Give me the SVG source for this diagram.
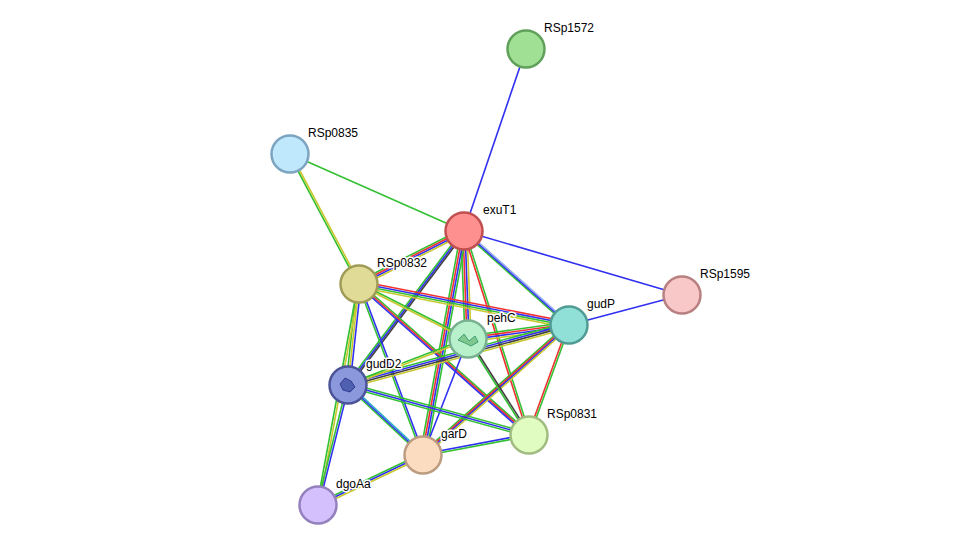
<svg xmlns="http://www.w3.org/2000/svg" width="976" height="551" viewBox="0 0 976 551">
<style>
line{stroke-width:1.6}
.g{stroke:#33c033}.b{stroke:#3030f0}.r{stroke:#f03030}.y{stroke:#c8c830}.k{stroke:#404040}.lb{stroke:#90a8f0}.c{stroke:#30b0c8}
circle{stroke-width:2.5}
text{font-family:"Liberation Sans",Arial,sans-serif;font-size:12px;fill:#000;stroke:#fff;stroke-width:3px;paint-order:stroke;stroke-linejoin:round}
</style>
<rect width="976" height="551" fill="#fff"/>
<g id="connectors">
<line class="b" x1="464" y1="231" x2="526" y2="49"/>
<line class="b" x1="464" y1="231" x2="682" y2="295"/>
<line class="g" x1="464" y1="231" x2="290" y2="154"/>
<line class="g" x1="289" y1="154" x2="358" y2="284"/><line class="y" x1="291" y1="154" x2="360" y2="284"/>
<line class="g" x1="464" y1="228" x2="359" y2="281"/><line class="r" x1="464" y1="230" x2="359" y2="283"/><line class="b" x1="464" y1="232" x2="359" y2="285"/><line class="y" x1="464" y1="234" x2="359" y2="287"/>
<line class="g" x1="462" y1="231" x2="567" y2="325"/><line class="b" x1="464" y1="231" x2="569" y2="325"/><line class="lb" x1="466" y1="231" x2="571" y2="325"/>
<line class="g" x1="461" y1="231" x2="465" y2="339"/><line class="r" x1="463" y1="231" x2="467" y2="339"/><line class="b" x1="465" y1="231" x2="469" y2="339"/><line class="y" x1="467" y1="231" x2="471" y2="339"/>
<line class="g" x1="462" y1="231" x2="346" y2="385"/><line class="b" x1="464" y1="231" x2="348" y2="385"/><line class="k" x1="466" y1="231" x2="350" y2="385"/>
<line class="g" x1="461" y1="231" x2="420" y2="455"/><line class="r" x1="463" y1="231" x2="422" y2="455"/><line class="b" x1="465" y1="231" x2="424" y2="455"/><line class="g" x1="467" y1="231" x2="426" y2="455"/>
<line class="r" x1="463" y1="231" x2="528" y2="435"/><line class="g" x1="465" y1="231" x2="530" y2="435"/>
<line class="r" x1="359" y1="281" x2="569" y2="322"/><line class="b" x1="359" y1="283" x2="569" y2="324"/><line class="g" x1="359" y1="285" x2="569" y2="326"/><line class="y" x1="359" y1="287" x2="569" y2="328"/>
<line class="g" x1="359" y1="283" x2="468" y2="338"/><line class="y" x1="359" y1="285" x2="468" y2="340"/>
<line class="g" x1="357" y1="284" x2="346" y2="385"/><line class="y" x1="359" y1="284" x2="348" y2="385"/><line class="b" x1="361" y1="284" x2="350" y2="385"/>
<line class="g" x1="358" y1="284" x2="422" y2="455"/><line class="b" x1="360" y1="284" x2="424" y2="455"/>
<line class="g" x1="359" y1="282" x2="529" y2="433"/><line class="r" x1="359" y1="284" x2="529" y2="435"/><line class="b" x1="359" y1="286" x2="529" y2="437"/>
<line class="g" x1="358" y1="284" x2="317" y2="505"/><line class="y" x1="360" y1="284" x2="319" y2="505"/>
<line class="b" x1="569" y1="325" x2="682" y2="295"/>
<line class="g" x1="569" y1="322" x2="468" y2="336"/><line class="r" x1="569" y1="324" x2="468" y2="338"/><line class="b" x1="569" y1="326" x2="468" y2="340"/><line class="y" x1="569" y1="328" x2="468" y2="342"/>
<line class="g" x1="569" y1="322" x2="348" y2="382"/><line class="b" x1="569" y1="324" x2="348" y2="384"/><line class="k" x1="569" y1="326" x2="348" y2="386"/><line class="y" x1="569" y1="328" x2="348" y2="388"/>
<line class="g" x1="566" y1="325" x2="420" y2="455"/><line class="r" x1="568" y1="325" x2="422" y2="455"/><line class="b" x1="570" y1="325" x2="424" y2="455"/><line class="y" x1="572" y1="325" x2="426" y2="455"/>
<line class="r" x1="568" y1="325" x2="528" y2="435"/><line class="g" x1="570" y1="325" x2="530" y2="435"/>
<line class="g" x1="468" y1="338" x2="348" y2="384"/><line class="y" x1="468" y1="340" x2="348" y2="386"/>
<line class="b" x1="468" y1="339" x2="423" y2="455"/>
<line class="g" x1="467" y1="339" x2="528" y2="435"/><line class="k" x1="469" y1="339" x2="530" y2="435"/>
<line class="g" x1="346" y1="385" x2="421" y2="455"/><line class="b" x1="348" y1="385" x2="423" y2="455"/><line class="c" x1="350" y1="385" x2="425" y2="455"/>
<line class="g" x1="348" y1="383" x2="529" y2="433"/><line class="b" x1="348" y1="385" x2="529" y2="435"/><line class="g" x1="348" y1="387" x2="529" y2="437"/>
<line class="g" x1="347" y1="385" x2="317" y2="505"/><line class="b" x1="349" y1="385" x2="319" y2="505"/>
<line class="b" x1="423" y1="454" x2="529" y2="434"/><line class="g" x1="423" y1="456" x2="529" y2="436"/>
<line class="g" x1="423" y1="453" x2="318" y2="503"/><line class="b" x1="423" y1="455" x2="318" y2="505"/><line class="y" x1="423" y1="457" x2="318" y2="507"/>
</g>
<g id="RSp1572"><circle cx="526" cy="49" r="18.5" fill="#a0e094" stroke="#60a05a"/><text x="544" y="32">RSp1572</text></g>
<g id="RSp0835"><circle cx="290" cy="154" r="18.5" fill="#c0e8fc" stroke="#7ca4c0"/><text x="308" y="137">RSp0835</text></g>
<g id="exuT1"><circle cx="464" cy="231" r="18.5" fill="#ff9090" stroke="#c05050"/><text x="483" y="214">exuT1</text></g>
<g id="RSp1595"><circle cx="682" cy="295" r="18.5" fill="#f8c8c8" stroke="#b88080"/><text x="700" y="278">RSp1595</text></g>
<g id="RSp0832"><circle cx="359" cy="284" r="18.5" fill="#e0dc98" stroke="#a09c58"/><text x="377" y="267">RSp0832</text></g>
<g id="gudP"><circle cx="569" cy="325" r="18.5" fill="#90e0d8" stroke="#509c94"/><text x="587" y="308">gudP</text></g>
<g id="pehC"><circle cx="468" cy="339" r="18.5" fill="#b8f0cc" stroke="#78b090"/><path d="M458 340l6-6 5 7 6-5 3 6-7 4-6-3z" fill="#80c890" stroke="#40a070" stroke-width="1"/><text x="487" y="322">pehC</text></g>
<g id="gudD2"><circle cx="348" cy="385" r="18.5" fill="#8c98dc" stroke="#4c5498"/><path d="M340 384l5-6 6 3 4 6-5 5-7-2z" fill="#5060b0" stroke="#303c90" stroke-width="1"/><text x="366" y="368">gudD2</text></g>
<g id="RSp0831"><circle cx="529" cy="435" r="18.5" fill="#e0fcc0" stroke="#a0bc80"/><text x="547" y="418">RSp0831</text></g>
<g id="garD"><circle cx="423" cy="455" r="18.5" fill="#fcdcc0" stroke="#bc9c80"/><text x="441" y="438">garD</text></g>
<g id="dgoAa"><circle cx="318" cy="505" r="18.5" fill="#d4c0fc" stroke="#9480bc"/><text x="336" y="488">dgoAa</text></g>
</svg>
